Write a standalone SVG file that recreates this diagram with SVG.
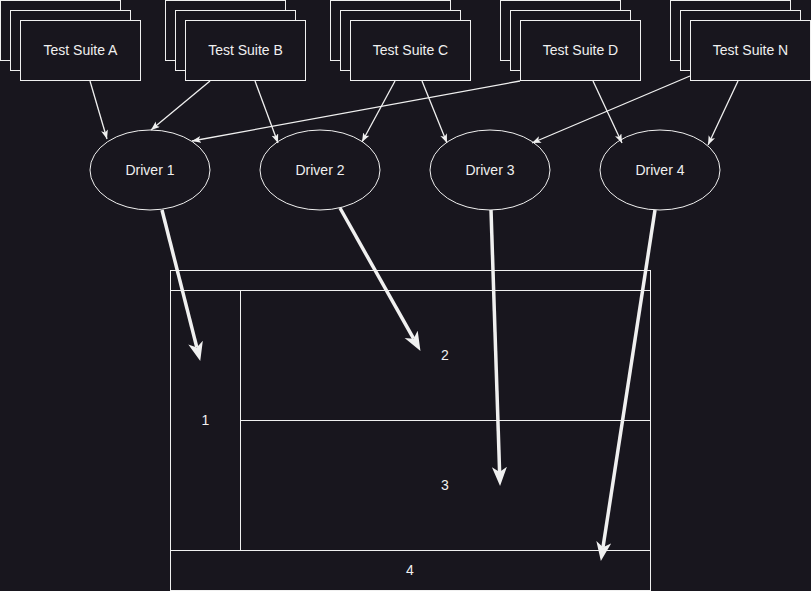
<svg xmlns="http://www.w3.org/2000/svg" width="811" height="591" viewBox="0 0 811 591">
<style>
.bg{fill:#18161e}
.box{fill:#18161e;stroke:#f0f0f0;stroke-width:1}
.t{font-family:"Liberation Sans",Arial,sans-serif;font-size:14px;fill:#f0f0f0;text-anchor:middle;dominant-baseline:central}
.thin{stroke:#f0f0f0;stroke-width:1.3;fill:none;marker-end:url(#ah)}
.thick{stroke:#f0f0f0;stroke-width:3.5;fill:none;marker-end:url(#AH)}
.ln{stroke:#f0f0f0;stroke-width:1;fill:none}
</style>
<defs>
<marker id="ah" markerUnits="userSpaceOnUse" markerWidth="10" markerHeight="8" refX="9" refY="3.5" orient="auto" viewBox="0 0 10 8">
<path d="M0,0 L9,3.5 L0,7 L2.2,3.5 Z" fill="#f0f0f0"/>
</marker>
<marker id="AH" markerUnits="userSpaceOnUse" markerWidth="20" markerHeight="16" refX="5" refY="7.5" orient="auto" viewBox="0 0 20 16">
<path d="M0,0 L19,7.5 L0,15 L5,7.5 Z" fill="#f0f0f0"/>
</marker>
</defs>
<rect class="bg" x="0" y="0" width="811" height="591"/>

<g id="table">
<rect class="box" x="170.5" y="270.5" width="480" height="320"/>
<line class="ln" x1="170" y1="290.5" x2="650" y2="290.5"/>
<line class="ln" x1="240.5" y1="290" x2="240.5" y2="550"/>
<line class="ln" x1="240" y1="420.5" x2="650" y2="420.5"/>
<line class="ln" x1="170" y1="550.5" x2="650" y2="550.5"/>
<text class="t" x="205.5" y="420">1</text>
<text class="t" x="445" y="355">2</text>
<text class="t" x="445" y="485">3</text>
<text class="t" x="410" y="570">4</text>
</g>

<g id="suiteA">
<rect class="box" x="0.5" y="0.5" width="120" height="60"/>
<rect class="box" x="10.5" y="10.5" width="120" height="60"/>
<rect class="box" x="20.5" y="20.5" width="120" height="60"/>
<text class="t" x="80.5" y="50">Test Suite A</text>
</g>
<g id="suiteB">
<rect class="box" x="165.5" y="0.5" width="120" height="60"/>
<rect class="box" x="175.5" y="10.5" width="120" height="60"/>
<rect class="box" x="185.5" y="20.5" width="120" height="60"/>
<text class="t" x="245.5" y="50">Test Suite B</text>
</g>
<g id="suiteC">
<rect class="box" x="330.5" y="0.5" width="120" height="60"/>
<rect class="box" x="340.5" y="10.5" width="120" height="60"/>
<rect class="box" x="350.5" y="20.5" width="120" height="60"/>
<text class="t" x="410.5" y="50">Test Suite C</text>
</g>
<g id="suiteD">
<rect class="box" x="500.5" y="0.5" width="120" height="60"/>
<rect class="box" x="510.5" y="10.5" width="120" height="60"/>
<rect class="box" x="520.5" y="20.5" width="120" height="60"/>
<text class="t" x="580.5" y="50">Test Suite D</text>
</g>
<g id="suiteN">
<rect class="box" x="670.5" y="0.5" width="120" height="60"/>
<rect class="box" x="680.5" y="10.5" width="120" height="60"/>
<rect class="box" x="690.5" y="20.5" width="120" height="60"/>
<text class="t" x="750.5" y="50">Test Suite N</text>
</g>

<g id="driver1">
<ellipse class="box" cx="150" cy="170" rx="60" ry="40"/>
<text class="t" x="150" y="170">Driver 1</text>
</g>
<g id="driver2">
<ellipse class="box" cx="320" cy="170" rx="60" ry="40"/>
<text class="t" x="320" y="170">Driver 2</text>
</g>
<g id="driver3">
<ellipse class="box" cx="490" cy="170" rx="60" ry="40"/>
<text class="t" x="490" y="170">Driver 3</text>
</g>
<g id="driver4">
<ellipse class="box" cx="660" cy="170" rx="60" ry="40"/>
<text class="t" x="660" y="170">Driver 4</text>
</g>

<g id="connectors">
<line class="thin" x1="90" y1="81" x2="107" y2="139"/>
<line class="thin" x1="210" y1="81" x2="151" y2="130"/>
<line class="thin" x1="255" y1="81" x2="278" y2="143"/>
<line class="thin" x1="520" y1="81" x2="192" y2="141"/>
<line class="thin" x1="395" y1="81" x2="362" y2="142"/>
<line class="thin" x1="422" y1="81" x2="447" y2="143"/>
<line class="thin" x1="690" y1="76" x2="532" y2="143"/>
<line class="thin" x1="593" y1="81" x2="622" y2="143"/>
<line class="thin" x1="738" y1="81" x2="708" y2="145"/>
<line class="thick" x1="162" y1="210" x2="196.8" y2="347.4"/>
<line class="thick" x1="340" y1="208" x2="413.6" y2="338.7"/>
<line class="thick" x1="491" y1="210" x2="499.6" y2="472"/>
<line class="thick" x1="655" y1="210" x2="603" y2="547.2"/>
</g>
</svg>
